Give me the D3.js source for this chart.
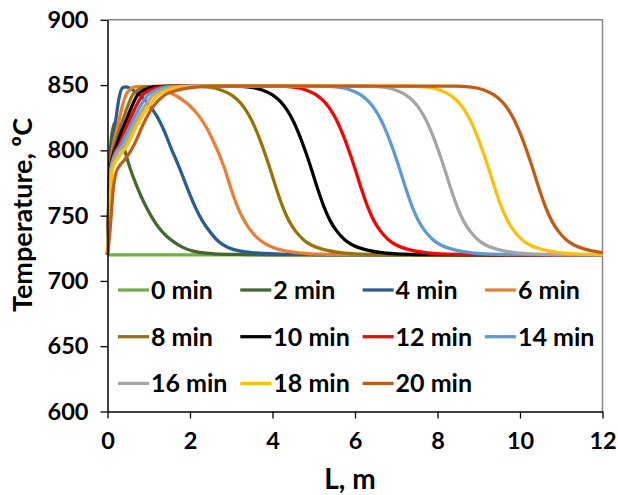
<!DOCTYPE html>
<html>
<head>
<meta charset="utf-8">
<script src="https://cdn.jsdelivr.net/npm/d3@7/dist/d3.min.js"></script>
<style>
  html, body { margin: 0; padding: 0; background: #ffffff; }
  svg { display: block; font-family: Lato, "Open Sans", "Liberation Sans", sans-serif; font-weight: 700; }
</style>
</head>
<body>
<svg id="chart" width="618" height="495"></svg>
<script>
// Temperature profiles along the bed length L (m) at successive times.
const seriesLabels = ["0 min", "2 min", "4 min", "6 min", "8 min", "10 min",
                      "12 min", "14 min", "16 min", "18 min", "20 min"];
const seriesColors = ["#70AD47", "#43682B", "#255E91", "#ED7D31", "#997300", "#000000",
                      "#FF0000", "#5B9BD5", "#A5A5A5", "#FFC000", "#C55A11"];

const xTicks = [0, 2, 4, 6, 8, 10, 12];
const yTicks = [600, 650, 700, 750, 800, 850, 900];

// [L, T] pairs for each time
const t0 = [[0,720],[12,720]];
const t2 = [[0,720],[0.03,765],[0.06,795],[0.1,811],[0.15,819],[0.21,822],[0.28,818],[0.35,809],
  [0.42,800],[0.5,791],[0.63,779],[0.75,769.5],[0.87,761],[1.0,753],[1.11,747],[1.25,740.5],[1.44,734],
  [1.65,729],[1.84,725.5],[2.05,723],[2.24,721.8],[2.6,720.8],[3.2,720.3],[4,720],[12,720]];
const t4 = [[0,720],[0.03,763],[0.06,788],[0.1,801],[0.15,811],[0.2,823],[0.28,840],[0.36,847.8],
  [0.45,848.6],[0.6,846.5],[0.8,842],[1.0,835],[1.2,826],[1.4,813],[1.55,801],[1.7,790],[1.85,778],
  [2.0,766],[2.15,755],[2.3,746],[2.5,737],[2.7,730],[2.9,726],[3.2,723],[3.6,721.4],[4.2,720.6],
  [5.0,720.2],[6,720],[12,720]];
const t6 = [[0,720],[0.03,760],[0.06,783],[0.1,797],[0.15,806],[0.22,815],[0.28,823],[0.36,834],
  [0.44,842],[0.54,846.5],[0.64,848.4],[0.8,849],[1.0,848.6],[1.2,847.6],[1.4,845.8],[1.6,843],
  [1.8,839],[2.0,834],[2.2,827],[2.4,817.5],[2.55,808],[2.7,797.5],[2.85,785],[3.0,770],[3.15,757],
  [3.3,747],[3.45,739.5],[3.6,734],[3.8,729],[4.0,725.8],[4.3,723],[4.7,721.3],[5.3,720.4],[6,720.1],[12,720]];
const t8 = [[0,720],[0.03,757],[0.07,786],[0.12,797],[0.17,804],[0.26,813],[0.36,822],[0.48,833],
  [0.6,842],[0.75,846.5],[0.93,848.7],[1.3,849.2],[2.05,849.2],[2.45,848.4],[2.75,846.3],[3.0,842.5],
  [3.2,837.1],[3.35,831],[3.5,822.7],[3.65,811.9],[3.8,799.1],[3.95,785],[4.1,770],[4.25,756.5],
  [4.4,746],[4.55,738.5],[4.75,731.5],[4.95,727.3],[5.25,724],[5.65,721.6],[6.15,720.5],[6.95,720.1],[12,720]];
const t10 = [[0,720],[0.03,755],[0.07,786],[0.13,796],[0.22,804],[0.32,813],[0.44,822],[0.58,833],
  [0.72,842],[0.9,846.5],[1.13,848.7],[1.6,849.2],[3.05,849.2],[3.45,848.4],[3.75,846.3],[4.0,842.5],
  [4.2,837.1],[4.35,831],[4.5,822.7],[4.65,811.9],[4.8,799.1],[4.95,785],[5.1,770],[5.25,756.5],
  [5.4,746],[5.55,738.5],[5.75,731.5],[5.95,727.3],[6.25,724],[6.65,721.6],[7.15,720.5],[7.95,720.1],[12,720]];
const t12 = [[0,720],[0.03,753],[0.08,786],[0.15,796],[0.28,804],[0.4,813],[0.52,822],[0.68,833],
  [0.84,842],[1.05,846.5],[1.29,848.7],[1.8,849.2],[4.11,849.2],[4.51,848.4],[4.81,846.3],[5.06,842.5],
  [5.26,837.1],[5.41,831],[5.56,822.7],[5.71,811.9],[5.86,799.1],[6.01,785],[6.16,770],[6.31,756.5],
  [6.46,746],[6.61,738.5],[6.81,731.5],[7.01,727.3],[7.31,724],[7.71,721.6],[8.21,720.5],[9.01,720.1],[12,720]];
const t14 = [[0,720],[0.03,751],[0.08,786],[0.17,796],[0.32,804],[0.46,813],[0.6,822],[0.78,833],
  [0.97,842],[1.2,846.5],[1.45,848.7],[2.0,849.2],[5.19,849.2],[5.59,848.4],[5.89,846.3],[6.14,842.5],
  [6.34,837.1],[6.49,831],[6.64,822.7],[6.79,811.9],[6.94,799.1],[7.09,785],[7.24,770],[7.39,756.5],
  [7.54,746],[7.69,738.5],[7.89,731.5],[8.09,727.3],[8.39,724],[8.79,721.6],[9.29,720.5],[10.09,720.1],[12,720]];
const t16 = [[0,720],[0.03,749],[0.09,786],[0.2,796],[0.4,804],[0.54,813],[0.68,822],[0.88,833],
  [1.09,842],[1.34,846.5],[1.61,848.7],[2.2,849.2],[6.28,849.2],[6.68,848.4],[6.98,846.3],[7.23,842.5],
  [7.43,837.1],[7.58,831],[7.73,822.7],[7.88,811.9],[8.03,799.1],[8.18,785],[8.33,770],[8.48,756.5],
  [8.63,746],[8.78,738.5],[8.98,731.5],[9.18,727.3],[9.48,724],[9.88,721.6],[10.38,720.5],[11.18,720.1],[12,720]];
const t18 = [[0,720],[0.04,748],[0.12,786],[0.25,794],[0.48,804],[0.62,813],[0.76,822],[0.98,833],
  [1.21,842],[1.48,846.5],[1.77,848.7],[2.4,849.2],[7.35,849.2],[7.75,848.4],[8.05,846.3],[8.3,842.5],
  [8.5,837.1],[8.65,831],[8.8,822.7],[8.95,811.9],[9.1,799.1],[9.25,785],[9.4,770],[9.55,756.5],
  [9.7,746],[9.85,738.5],[10.05,731.5],[10.25,727.3],[10.55,724],[10.95,721.6],[11.45,720.5],[12,720.2]];
const t20 = [[0,720],[0.06,738],[0.1,755],[0.14,771],[0.2,782],[0.3,788.5],[0.42,793],[0.64,804],
  [0.88,821],[1.13,834.5],[1.37,842],[1.69,846],[2.02,848],[2.4,849],[3.2,849.2],[8.42,849.2],
  [8.82,848.4],[9.12,846.3],[9.37,842.5],[9.57,837.1],[9.72,831],[9.87,822.7],[10.02,811.9],
  [10.17,799.1],[10.32,785],[10.47,770],[10.62,756.5],[10.77,746],[10.92,738.5],[11.12,731.5],
  [11.32,727.3],[11.62,724],[12,721.7]];

const seriesValues = [t0, t2, t4, t6, t8, t10, t12, t14, t16, t18, t20];

const svg = d3.select("#chart");
const plot = { left: 107.5, right: 602.5, top: 19.8, bottom: 411.5 };

const x = d3.scaleLinear().domain([0, 12]).range([plot.left, plot.right]);
const y = d3.scaleLinear().domain([600, 900]).range([plot.bottom, plot.top]);

// plot area frame (top and right edges)
svg.append("path")
  .attr("d", `M${plot.left},${plot.top}H${plot.right}V${plot.bottom}`)
  .attr("fill", "none").attr("stroke", "#868686").attr("stroke-width", 1.5);

// curves
const line = d3.line()
  .x(d => x(d[0])).y(d => y(d[1]))
  .curve(d3.curveMonotoneX);

svg.append("g").selectAll("path")
  .data(seriesValues)
  .join("path")
  .attr("d", line)
  .attr("fill", "none")
  .attr("stroke", (d, i) => seriesColors[i])
  .attr("stroke-width", 3.25)
  .attr("stroke-linejoin", "round");

// axes
const xAxis = svg.append("g")
  .attr("transform", `translate(0,${plot.bottom})`)
  .call(d3.axisBottom(x).tickValues(xTicks).tickSize(7).tickPadding(14).tickSizeOuter(0));
const yAxis = svg.append("g")
  .attr("transform", `translate(${plot.left},0)`)
  .call(d3.axisLeft(y).tickValues(yTicks).tickSize(7).tickPadding(12).tickSizeOuter(0));

[xAxis, yAxis].forEach(g => {
  g.select(".domain").attr("stroke", "#000").attr("stroke-width", 1.5);
  g.selectAll(".tick line").attr("stroke", "#000").attr("stroke-width", 1.3);
  g.selectAll(".tick text").attr("fill", "#000")
    .style("font-size", "23.5px").style("font-family", "Lato, sans-serif").style("font-weight", 700);
});

// axis titles
svg.append("text")
  .attr("x", 350).attr("y", 489)
  .attr("text-anchor", "middle")
  .style("font-size", "28px")
  .text("L, m");

svg.append("text")
  .attr("transform", "translate(32,215) rotate(-90)")
  .attr("text-anchor", "middle")
  .style("font-size", "27px")
  .text("Temperature, ºC");

// legend: 4 columns x 3 rows
const legendCols = 4, legendX0 = 118, legendColStep = 122.3, legendY0 = 290, legendRowStep = 46.7;
const legend = svg.append("g").selectAll("g")
  .data(seriesLabels)
  .join("g")
  .attr("transform", (d, i) =>
    `translate(${legendX0 + (i % legendCols) * legendColStep},${legendY0 + Math.floor(i / legendCols) * legendRowStep})`);

legend.append("line")
  .attr("x1", 0).attr("x2", 31).attr("y1", 0).attr("y2", 0)
  .attr("stroke", (d, i) => seriesColors[i])
  .attr("stroke-width", 3.25);

legend.append("text")
  .attr("x", 33).attr("y", 0).attr("dy", "0.36em")
  .style("font-size", "25px")
  .text(d => d);
</script>
</body>
</html>
